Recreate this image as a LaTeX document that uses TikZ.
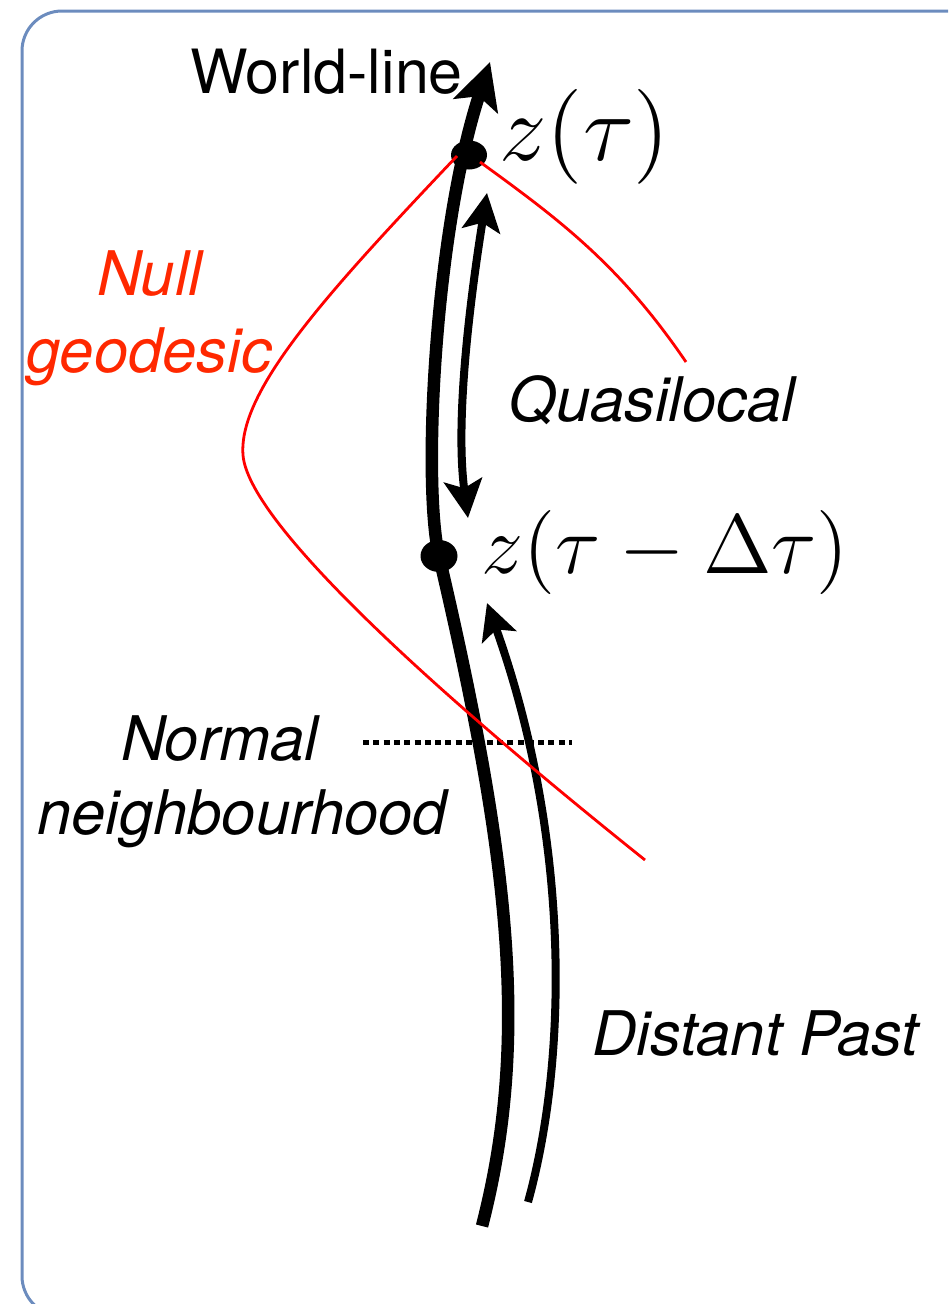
\documentclass[tikz,border=0pt]{standalone}
\usepackage{fontspec}
\newfontfamily\helv{TeX Gyre Heros}
\usetikzlibrary{arrows.meta,shapes.geometric}
\definecolor{boxblue}{RGB}{108,140,190}
\definecolor{nullred}{RGB}{255,40,0}
\definecolor{linered}{RGB}{255,0,0}
\tikzset{
  lbl/.style={font=\helv\fontsize{61.5}{72}\selectfont\itshape, inner sep=0pt, anchor=base west},
  mathlbl/.style={font=\fontsize{12}{14}\selectfont, inner sep=0pt, anchor=base west},
  dotnode/.style={ellipse, fill=black, inner sep=0pt},
  wline/.style={line width=12.5pt, -{Stealth[length=46pt,width=46pt,inset=10pt]}},
  qhead/.style={},
  thinarrow/.style={line width=8pt},
  nullline/.style={draw=linered, line width=2.8pt},
}
\begin{document}
\begin{tikzpicture}[x=1pt,y=-1pt]
\useasboundingbox (0,0) rectangle (948,1304);
\clip (0,0) rectangle (948,1304);
% frame
\draw[boxblue, line width=3pt, rounded corners=40pt] (22,11) rectangle (1010,1316);

% named points
\coordinate (wlstart) at (482,1226);
\coordinate (wltip) at (490,62);
\coordinate (qtop) at (487,193);
\coordinate (qbot) at (468,518);
\coordinate (dpstart) at (528,1202);
\coordinate (dptip) at (487,603);
\coordinate (nlA) at (457,156);
\coordinate (nlMid) at (243,455);
\coordinate (nlEnd) at (645,860);
\coordinate (nrA) at (480,162);
\coordinate (nrEnd) at (686,362);
\coordinate (nnL) at (363,742);
\coordinate (nnR) at (572,742);
\coordinate (wlB) at (439,556);

% world-line
\draw[wline] (wlstart) .. controls (530,1040) and (510,860) .. (wlB)
   .. controls (422,482) and (435,230) .. (wltip);

% quasilocal double arrow
\draw[thinarrow, {Stealth[length=38pt,width=38pt,inset=8pt]}-{Stealth[length=38pt,width=38pt,inset=8pt]}]
  (qtop) .. controls (470,300) and (455,420) .. (qbot);

% distant past arrow
\draw[thinarrow, -{Stealth[length=36pt,width=36pt,inset=8pt]}]
  (dpstart) .. controls (570,1050) and (568,830) .. (dptip);

% normal neighbourhood dotted line
\draw[line width=5pt, dash pattern=on 6pt off 4.3pt] (nnL) -- (nnR);

% dots
\node[dotnode, minimum width=36pt, minimum height=29pt] (ztau) at (469,155) {};
\node[dotnode, minimum width=37pt, minimum height=32pt] (zdtau) at (wlB) {};

% null geodesic
\draw[nullline] (nlA) .. controls (330,290) and (238,390) .. (nlMid)
   .. controls (248,520) and (420,680) .. (nlEnd);
\draw[nullline] (nrA) .. controls (560,220) and (620,265) .. (nrEnd);

% labels
\node[lbl, font=\helv\fontsize{61}{72}\selectfont] (wl) at (190,93) {World-line};
\node[mathlbl, scale=7.9] (lz1) at (498,160) {$z(\tau)$};
\node[mathlbl, scale=7.0] (lz2) at (480,573) {$z(\tau-\Delta\tau)$};
\node[lbl, text=nullred] (null1) at (97,295) {Null};
\node[lbl, text=nullred] (null2) at (26,372) {geodesic};
\node[lbl] (quasi) at (508,421) {Quasilocal};
\node[lbl] (norm1) at (121,760) {Normal};
\node[lbl] (norm2) at (37,834) {neighbourhood};
\node[lbl] (dp) at (592,1055) {Distant Past};
\end{tikzpicture}
\end{document}
